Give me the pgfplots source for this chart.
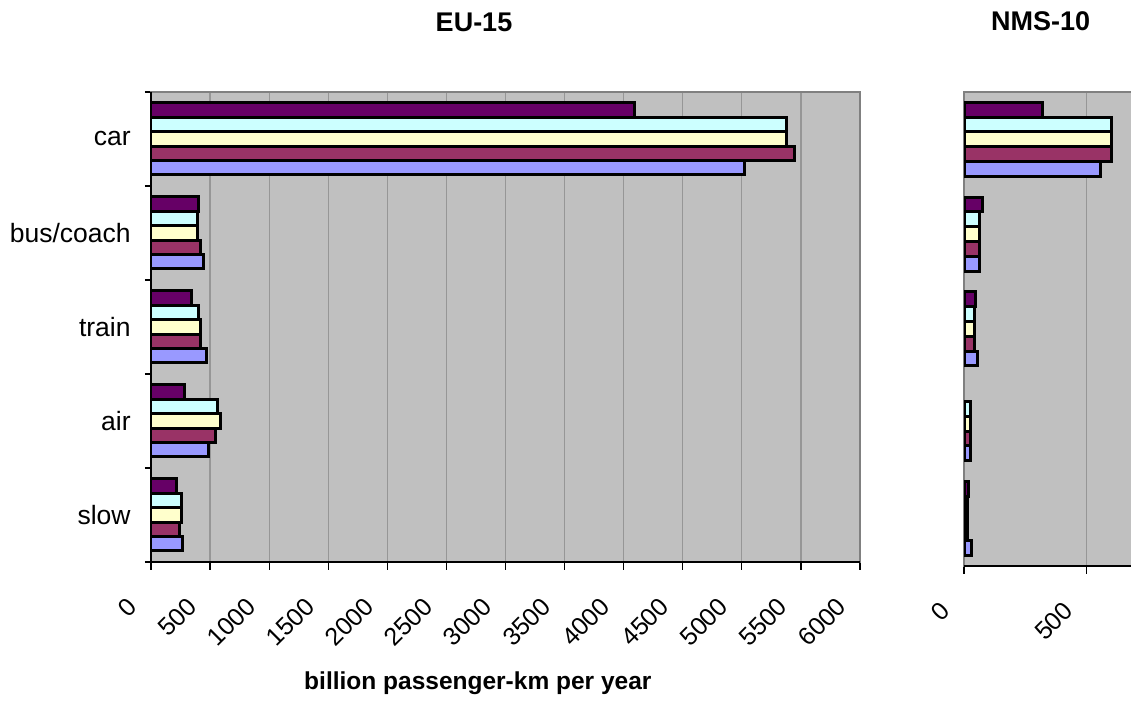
\documentclass[border=0pt]{standalone}
\usepackage{pgfplots}
\pgfplotsset{compat=1.18}
\usepackage{fontspec}
\setmainfont{Liberation Sans}

\definecolor{cpurple}{HTML}{660066}
\definecolor{ccyan}{HTML}{CCFFFF}
\definecolor{cyellow}{HTML}{FFFFCC}
\definecolor{cmaroon}{HTML}{993366}
\definecolor{cblue}{HTML}{9999FF}
\definecolor{plotbg}{HTML}{C0C0C0}
\definecolor{gridgray}{HTML}{969696}
\definecolor{framegray}{HTML}{808080}

\pgfplotsset{
  modebars/.style={
    scale only axis,
    xbar,
    ymin=-0.5, ymax=4.5,
    axis background/.style={fill=plotbg},
    axis line style={draw=framegray, line width=1pt},
    xmajorgrids,
    major grid style={draw=gridgray, line width=0.6pt},
    tick align=outside,
    xtick pos=left, ytick pos=left,
    major tick length=4pt,
    minor tick length=3pt,
    tick style={black, line width=0.6pt},
    every major y tick/.append style={draw=none},
    scaled x ticks=false,
    /pgf/number format/.cd, 1000 sep={}, assume math mode=true,
    /pgfplots/.cd,
    xticklabel style={font=\fontsize{12.5}{15}\selectfont,
      xshift=-9pt, yshift=-16pt, rotate=45, anchor=east, inner sep=0pt},
    every axis title shift=0pt,
    title style={font=\bfseries\fontsize{13.5}{16}\selectfont},
    every axis plot/.append style={draw=black, line width=1.5pt},
  }
}

\begin{document}
\begin{tikzpicture}
% EU-15 panel
\begin{axis}[
  modebars,
  at={(75.5pt,71pt)}, anchor=south west,
  width=354.5pt, height=235pt,
  xmin=0, xmax=6000,
  xtick={0,500,...,6000},
  bar width=7.2pt,
  ytick={0,1,2,3,4},
  yticklabels={slow,air,train,bus/coach,car},
  minor ytick={-0.5,0.5,...,4.5},
  yticklabel style={font=\fontsize{13.25}{16}\selectfont, anchor=east, inner sep=0pt, xshift=-6pt},
  title={EU-15},
  title style={at={(axis description cs:0.4556,1.148)}, anchor=center, yshift=0pt},
  xlabel={billion passenger-km per year},
  xlabel style={at={(axis description cs:0.461,-0.259)}, anchor=center,
    font=\bfseries\fontsize{12.25}{14}\selectfont},
  after end axis/.code={
    \draw[black, line width=1pt] (rel axis cs:0,1) -- (rel axis cs:0,0) -- (rel axis cs:1,0);
  },
]
\addplot[fill=cpurple, bar shift=14.4pt] coordinates {(4090,4) (400,3) (345,2) (280,1) (220,0)};
\addplot[fill=ccyan,   bar shift=7.2pt]  coordinates {(5380,4) (395,3) (405,2) (565,1) (260,0)};
\addplot[fill=cyellow, bar shift=0pt]    coordinates {(5380,4) (395,3) (420,2) (590,1) (260,0)};
\addplot[fill=cmaroon, bar shift=-7.2pt] coordinates {(5450,4) (420,3) (420,2) (545,1) (245,0)};
\addplot[fill=cblue,   bar shift=-14.4pt] coordinates {(5020,4) (445,3) (470,2) (485,1) (265,0)};
\end{axis}

% NMS-10 panel
\begin{axis}[
  modebars,
  at={(482pt,69pt)}, anchor=south west,
  width=85.9pt, height=237pt,
  xmin=0, xmax=700,
  xtick={0,500},
  bar width=7.4pt,
  ytick=\empty,
  title={NMS-10},
  title style={at={(axis description cs:0.4455,1.149)}, anchor=center, yshift=0pt},
  after end axis/.code={
    \draw[black, line width=1pt] (rel axis cs:0,0) -- (rel axis cs:1,0);
  },
]
\addplot[fill=cpurple, bar shift=14.8pt] coordinates {(320,4) (75,3) (47,2) (20,0)};
\addplot[fill=ccyan,   bar shift=7.4pt]  coordinates {(602,4) (62,3) (44,2) (28,1) (16,0)};
\addplot[fill=cyellow, bar shift=0pt]    coordinates {(602,4) (62,3) (44,2) (27,1) (16,0)};
\addplot[fill=cmaroon, bar shift=-7.4pt] coordinates {(602,4) (63,3) (44,2) (27,1) (16,0)};
\addplot[fill=cblue,   bar shift=-14.8pt] coordinates {(556,4) (63,3) (56,2) (28,1) (29,0)};
\end{axis}

\pgfresetboundingbox
\path[use as bounding box] (0,0) rectangle (565.5pt,352pt);
\end{tikzpicture}
\end{document}
